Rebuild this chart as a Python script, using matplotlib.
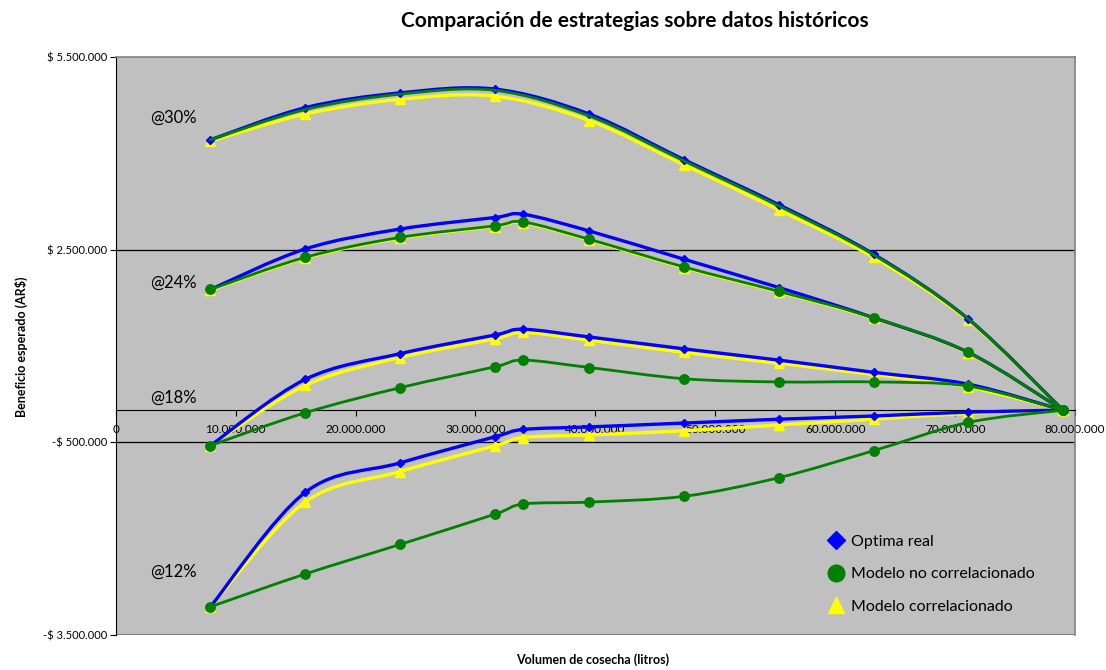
import numpy as np
import matplotlib.pyplot as plt
from matplotlib.path import Path
from matplotlib.patches import PathPatch
from matplotlib.lines import Line2D
from matplotlib.ticker import FuncFormatter

plt.rcParams['font.family'] = ['Lato', 'DejaVu Sans']

# volumen de cosecha (millones de litros)
volumen = [7.9, 15.8, 23.7, 31.6, 34.0, 39.5, 47.4, 55.3, 63.2, 71.1, 79.0]

# beneficio esperado (millones de AR$) por tasa; None = sin dato
optima_30 = [4.21, 4.71, 4.94, 5.00, None, 4.61, 3.90, 3.20, 2.43, 1.42, 0.0]
nocorr_30 = [4.21, 4.68, 4.92, 4.98, None, 4.58, 3.88, 3.18, 2.42, 1.42, 0.0]
corr_30 = [4.19, 4.61, 4.84, 4.89, None, 4.51, 3.82, 3.12, 2.38, 1.40, 0.0]

optima_24 = [1.88, 2.51, 2.82, 3.00, 3.05, 2.79, 2.35, 1.91, 1.44, 0.90, 0.0]
nocorr_24 = [1.88, 2.38, 2.69, 2.87, 2.93, 2.66, 2.23, 1.85, 1.44, 0.90, 0.0]
corr_24 = [1.87, 2.37, 2.68, 2.86, 2.92, 2.65, 2.22, 1.84, 1.43, 0.89, 0.0]

optima_18 = [-0.55, 0.48, 0.88, 1.17, 1.26, 1.14, 0.955, 0.78, 0.59, 0.405, 0.0]
nocorr_18 = [-0.55, -0.04, 0.35, 0.675, 0.78, 0.665, 0.49, 0.44, 0.44, 0.375, 0.0]
corr_18 = [-0.55, 0.385, 0.82, 1.11, 1.21, 1.09, 0.90, 0.73, 0.555, 0.36, 0.0]

optima_12 = [-3.06, -1.28, -0.82, -0.415, -0.30, -0.26, -0.20, -0.14, -0.09, -0.03, 0.0]
nocorr_12 = [-3.06, -2.55, -2.09, -1.62, -1.46, -1.43, -1.34, -1.05, -0.63, -0.19, 0.0]
corr_12 = [-3.06, -1.43, -0.955, -0.555, -0.425, -0.385, -0.32, -0.23, -0.14, -0.05, 0.0]

tasas = ['@30%', '@24%', '@18%', '@12%']
tasa_y = [4.56, 1.98, 0.20, -2.52]


def smooth_path(x, y):
    # curva suavizada estilo Excel: Bezier cubica con tangentes de Catmull-Rom
    pts = [(a * 1e6, b * 1e6) for a, b in zip(x, y) if b is not None]
    p = np.array(pts)
    n = len(p)
    verts = [p[0]]
    codes = [Path.MOVETO]
    for i in range(n - 1):
        p0 = p[max(i - 1, 0)]
        p3 = p[min(i + 2, n - 1)]
        c1 = p[i] + (p[i + 1] - p0) / 6.0
        c2 = p[i + 1] - (p3 - p[i]) / 6.0
        verts += [c1, c2, p[i + 1]]
        codes += [Path.CURVE4] * 3
    return Path(verts, codes), p


def draw_series(ax, y, color, lw, marker, ms, z):
    path, p = smooth_path(volumen, y)
    ax.add_patch(PathPatch(path, fill=False, edgecolor=color, lw=lw,
                           zorder=z, capstyle='round', joinstyle='round'))
    if marker:
        ax.plot(p[:, 0], p[:, 1], linestyle='none', marker=marker, ms=ms,
                color=color, markeredgecolor=color, zorder=z + 0.1)


fig = plt.figure(figsize=(11.06, 6.70), dpi=100)
ax = fig.add_axes([0.1046, 0.0522, 0.8674, 0.8628])
ax.set_facecolor('#C0C0C0')

ax.set_xlim(0, 80e6)
ax.set_ylim(-3.5e6, 5.5e6)

groups = [
    (optima_30, nocorr_30, corr_30),
    (optima_24, nocorr_24, corr_24),
    (optima_18, nocorr_18, corr_18),
    (optima_12, nocorr_12, corr_12),
]
for k, (opt, nc, cr) in enumerate(groups):
    draw_series(ax, cr, '#FFFF00', 2.4, '^', 6.5, 3)
    draw_series(ax, opt, '#0000FF', 2.4, 'D', 4.5, 4)
    # la curva no correlacionada de @30% va sin marcadores
    draw_series(ax, nc, '#008000', 2.0, None if k == 0 else 'o', 6.8, 5)

for lab, yy in zip(tasas, tasa_y):
    ax.text(2.86e6, yy * 1e6, lab, fontsize=12, va='center', ha='left', zorder=6)

# lineas de division y marco del area de trazado
ax.axhline(2.5e6, color='black', lw=0.9, zorder=1)
ax.axhline(-0.5e6, color='black', lw=0.9, zorder=1)
ax.axhline(-3.5e6, color='#808080', lw=1.5, zorder=1)
ax.spines['top'].set_color('#808080')
ax.spines['right'].set_color('#808080')
ax.spines['top'].set_linewidth(1.2)
ax.spines['right'].set_linewidth(1.2)
ax.spines['left'].set_color('black')
ax.spines['bottom'].set_position(('data', 0))
ax.spines['bottom'].set_color('black')

ax.set_yticks([5.5e6, 2.5e6, -0.5e6, -3.5e6])
ax.yaxis.set_major_formatter(FuncFormatter(
    lambda v, pos: ('-$ ' if v < 0 else '$ ') + f'{abs(v):,.0f}'.replace(',', '.')))
ax.set_xticks(np.arange(0, 80e6 + 1, 10e6))
ax.xaxis.set_major_formatter(FuncFormatter(
    lambda v, pos: f'{v:,.0f}'.replace(',', '.')))
ax.tick_params(axis='y', labelsize=8, length=4, direction='out', pad=2)
ax.tick_params(axis='x', labelsize=8.5, length=4, direction='out', pad=6)

fig.text(0.574, 0.968, 'Comparación de estrategias sobre datos históricos',
         fontsize=15, fontweight='bold', ha='center', va='center')
fig.text(0.536, 0.015, 'Volumen de cosecha (litros)',
         fontsize=9, fontweight='bold', ha='center', va='center')
fig.text(0.019, 0.482, 'Beneficio esperado (AR$)', rotation=90,
         fontsize=9, fontweight='bold', ha='center', va='center')

handles = [
    Line2D([], [], linestyle='none', marker='D', ms=9.5, color='#0000FF'),
    Line2D([], [], linestyle='none', marker='o', ms=12, color='#008000'),
    Line2D([], [], linestyle='none', marker='^', ms=12, color='#FFFF00'),
]
ax.legend(handles, ['Optima real', 'Modelo no correlacionado', 'Modelo correlacionado'],
          loc='upper left', bbox_to_anchor=(0.741, 0.174), frameon=False,
          fontsize=11.5, handlelength=1.2, handletextpad=0.3, labelspacing=1.15,
          borderpad=0, borderaxespad=0)

fig.savefig('out.png', dpi=100)
